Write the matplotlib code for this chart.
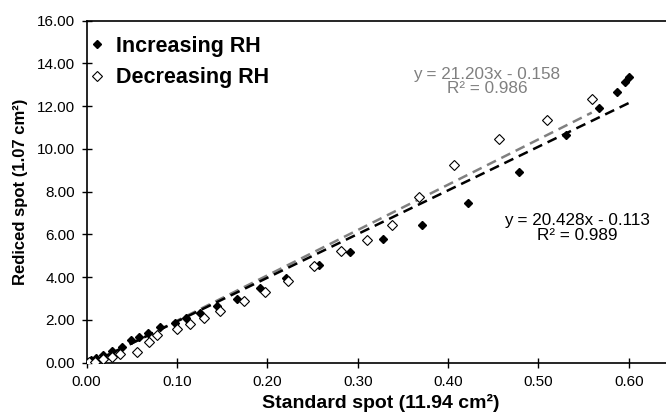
import numpy as np
import matplotlib
matplotlib.use('Agg')
from matplotlib import pyplot as plt

# Increasing RH (filled diamonds)
inc_x = [0.000, 0.005, 0.010, 0.018, 0.028, 0.039, 0.049, 0.058, 0.068, 0.081, 0.098,
         0.110, 0.125, 0.144, 0.166, 0.192, 0.221, 0.257, 0.291, 0.328, 0.371, 0.422,
         0.478, 0.530, 0.567, 0.587, 0.596, 0.600]
inc_y = [0.00, 0.12, 0.22, 0.38, 0.53, 0.74, 1.04, 1.21, 1.40, 1.65, 1.85,
         2.07, 2.33, 2.67, 2.98, 3.48, 3.98, 4.57, 5.19, 5.77, 6.43, 7.45,
         8.93, 10.64, 11.93, 12.66, 13.13, 13.34]

# Decreasing RH (open diamonds)
dec_x = [0.000, 0.003, 0.009, 0.018, 0.028, 0.037, 0.056, 0.069, 0.078, 0.100, 0.114,
         0.130, 0.148, 0.174, 0.197, 0.223, 0.252, 0.281, 0.310, 0.338, 0.368, 0.407,
         0.456, 0.509, 0.559]
dec_y = [0.00, 0.02, 0.05, 0.16, 0.28, 0.39, 0.51, 0.98, 1.29, 1.56, 1.81,
         2.07, 2.43, 2.90, 3.32, 3.82, 4.52, 5.24, 5.73, 6.43, 7.76, 9.24,
         10.44, 11.37, 12.31]

# trendline coefficients as printed on the chart
inc_fit = (20.428, -0.113, 0.989)
dec_fit = (21.203, -0.158, 0.986)

x_ticks = [0.0, 0.1, 0.2, 0.3, 0.4, 0.5, 0.6]
y_ticks = [0, 2, 4, 6, 8, 10, 12, 14, 16]

plt.rcParams['font.family'] = ['Liberation Sans', 'DejaVu Sans']

fig = plt.figure(figsize=(6.66, 4.15), dpi=100)
ax = fig.add_axes([0.130, 0.126, 0.882, 0.8245])

# trendlines
for xs, fit, col in [(dec_x, dec_fit, '#808080'), (inc_x, inc_fit, 'black')]:
    lx = np.array([0.0, max(xs)])
    ax.plot(lx, fit[0] * lx + fit[1], color=col, lw=1.8, ls=(0, (4, 2.4)), zorder=2)

ax.plot(inc_x, inc_y, ls='none', marker='D', ms=3.7, color='black',
        label='Increasing RH', zorder=3)
ax.plot(dec_x, dec_y, ls='none', marker='D', ms=4.6, mfc='white', mec='black',
        mew=0.8, label='Decreasing RH', zorder=3)

ax.text(0.443, 13.16, 'y = %.3fx - %.3f\nR² = %.3f' % (dec_fit[0], -dec_fit[1], dec_fit[2]),
        color='#808080', fontsize=12.3, ha='center', va='center', linespacing=0.95)
ax.text(0.543, 6.29, 'y = %.3fx - %.3f\nR² = %.3f' % (inc_fit[0], -inc_fit[1], inc_fit[2]),
        color='black', fontsize=12.3, ha='center', va='center', linespacing=0.95)

ax.set_xlim(0, 0.65)
ax.set_ylim(0, 16)
ax.set_xticks(x_ticks)
ax.set_yticks(y_ticks)
ax.set_xticklabels(['%.2f' % v for v in x_ticks])
ax.set_yticklabels(['%.2f' % v for v in y_ticks])
ax.tick_params(direction='inout', length=7, width=1, labelsize=11)
ax.tick_params(axis='x', pad=5)
ax.tick_params(axis='y', pad=5)
for s in ax.spines.values():
    s.set_linewidth(1.2)

ax.set_xlabel('Standard spot (11.94 cm²)', fontsize=14, fontweight='bold', labelpad=4)
ax.set_ylabel('Rediced spot (1.07 cm²)', fontsize=12, fontweight='bold', labelpad=6)

leg = ax.legend(loc='upper left', bbox_to_anchor=(0.0, 0.955), frameon=False,
                prop={'size': 15.5, 'weight': 'bold'}, borderpad=0, borderaxespad=0,
                handletextpad=0.35, labelspacing=0.48, handlelength=1.0)

fig.savefig('out.png', dpi=100)
